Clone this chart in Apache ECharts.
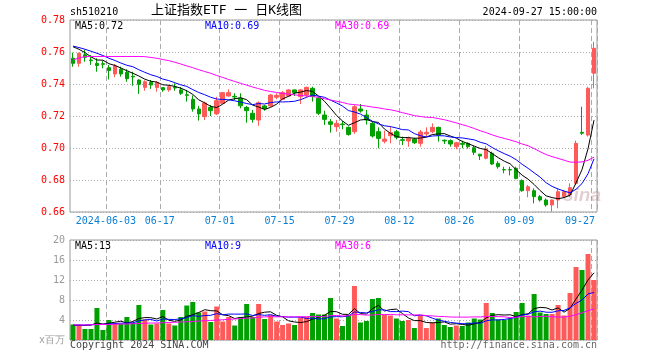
<!DOCTYPE html>
<html><head><meta charset="utf-8">
<script src="https://cdn.jsdelivr.net/npm/echarts@6/dist/echarts.min.js"></script>
<style>html,body{margin:0;padding:0;background:#fff}#c{width:660px;height:360px}</style>
</head><body><div id="c"></div>
<script>
const dates = ['05-24','05-27','05-28','05-29','05-30','05-31',
'06-03','06-04','06-05','06-06','06-07','06-11','06-12','06-13','06-14','06-17','06-18','06-19','06-20','06-21','06-24','06-25','06-26','06-27','06-28',
'07-01','07-02','07-03','07-04','07-05','07-08','07-09','07-10','07-11','07-12','07-15','07-16','07-17','07-18','07-19','07-22','07-23','07-24','07-25','07-26','07-29','07-30','07-31',
'08-01','08-02','08-05','08-06','08-07','08-08','08-09','08-12','08-13','08-14','08-15','08-16','08-19','08-20','08-21','08-22','08-23','08-26','08-27','08-28','08-29','08-30',
'09-02','09-03','09-04','09-05','09-06','09-09','09-10','09-11','09-12','09-13','09-18','09-19','09-20','09-23','09-24','09-25','09-26','09-27'];
const tickDates = ['06-03','06-17','07-01','07-15','07-29','08-12','08-26','09-09','09-27'];

const opens = [0.7561,0.7529,0.7583,0.7550,0.7529,0.7527,0.7502,0.7463,0.7492,0.7473,0.7448,0.7425,0.7379,0.7411,0.7378,0.7377,0.7363,0.7379,0.7363,0.7333,
0.7304,0.7244,0.7196,0.7254,0.7213,0.7279,0.7325,0.7323,0.7311,0.7254,0.7217,0.7175,0.7263,0.7263,0.7317,0.7304,0.7325,0.7363,0.7321,0.7331,
0.7373,0.7311,0.7206,0.7164,0.7133,0.7150,0.7129,0.7102,0.7244,0.7206,0.7154,0.7102,0.7042,0.7077,0.7102,0.7052,0.7044,0.7056,0.7029,0.7088,
0.7102,0.7129,0.7048,0.7046,0.7008,0.7029,0.7029,0.7002,0.6961,0.6936,0.6967,0.6904,0.6865,0.6865,0.6873,0.6796,0.6733,0.6733,0.6696,0.6675,
0.6644,0.6675,0.6696,0.6706,0.6779,0.7098,0.7081,0.7467];
const closes = [0.7529,0.7592,0.7567,0.7546,0.7516,0.7523,0.7484,0.7513,0.7463,0.7433,0.7444,0.7398,0.7414,0.7394,0.7408,0.7363,0.7383,0.7375,0.7342,0.7329,
0.7244,0.7213,0.7281,0.7233,0.7296,0.7346,0.7346,0.7319,0.7264,0.7233,0.7179,0.7283,0.7246,0.7331,0.7329,0.7346,0.7363,0.7346,0.7363,0.7379,
0.7321,0.7217,0.7179,0.7148,0.7154,0.7146,0.7085,0.7258,0.7231,0.7175,0.7075,0.7060,0.7056,0.7096,0.7067,0.7048,0.7060,0.7033,0.7100,0.7098,
0.7129,0.7081,0.7044,0.7025,0.7033,0.7023,0.7008,0.6973,0.6950,0.6994,0.6900,0.6883,0.6863,0.6863,0.6810,0.6733,0.6758,0.6696,0.6675,0.6644,
0.6675,0.6727,0.6727,0.6752,0.7029,0.7092,0.7373,0.7623];
const lows = [0.7508,0.7508,0.7539,0.7519,0.7477,0.7498,0.7429,0.7442,0.7446,0.7414,0.7389,0.7338,0.7358,0.7369,0.7352,0.7352,0.7352,0.7358,0.7331,0.7290,
0.7227,0.7171,0.7175,0.7200,0.7206,0.7275,0.7321,0.7300,0.7248,0.7158,0.7158,0.7139,0.7233,0.7256,0.7304,0.7300,0.7321,0.7325,0.7275,0.7319,
0.7290,0.7206,0.7144,0.7096,0.7102,0.7117,0.7077,0.7088,0.7221,0.7146,0.7065,0.6998,0.7029,0.7029,0.7054,0.7019,0.7008,0.7025,0.7008,0.7071,
0.7092,0.7040,0.7025,0.7008,0.6992,0.6998,0.6996,0.6956,0.6925,0.6929,0.6894,0.6871,0.6842,0.6829,0.6804,0.6727,0.6692,0.6654,0.6665,0.6633,
0.6602,0.6623,0.6690,0.6696,0.6769,0.7081,0.7071,0.7373];
const highs = [0.7596,0.7596,0.7613,0.7581,0.7561,0.7546,0.7519,0.7525,0.7508,0.7492,0.7477,0.7429,0.7423,0.7425,0.7419,0.7381,0.7394,0.7404,0.7381,0.7363,
0.7329,0.7263,0.7290,0.7269,0.7320,0.7350,0.7367,0.7342,0.7342,0.7263,0.7238,0.7292,0.7270,0.7338,0.7342,0.7356,0.7367,0.7365,0.7367,0.7383,
0.7383,0.7321,0.7233,0.7181,0.7175,0.7169,0.7135,0.7269,0.7275,0.7238,0.7165,0.7129,0.7108,0.7133,0.7113,0.7071,0.7071,0.7063,0.7113,0.7129,
0.7154,0.7133,0.7054,0.7054,0.7038,0.7046,0.7035,0.7013,0.6963,0.7013,0.6977,0.6917,0.6883,0.6883,0.6883,0.6804,0.6769,0.6748,0.6706,0.6685,
0.6679,0.6748,0.6738,0.6779,0.7046,0.7258,0.7383,0.7664];
const volumes = [3.1,3.1,2.2,2.2,6.4,2.0,4.0,3.2,3.2,4.6,3.5,7.0,4.1,3.1,3.3,6.0,3.3,2.9,4.6,6.9,
7.6,5.5,5.7,3.6,6.7,3.7,4.6,2.9,4.6,7.2,4.6,7.2,4.2,5.0,3.7,3.0,3.3,3.0,4.5,4.6,
5.4,5.1,5.1,8.4,4.3,2.8,5.0,10.8,3.5,3.8,8.2,8.4,5.1,4.9,4.3,3.8,4.0,2.4,4.9,2.4,
3.5,4.3,3.0,2.6,2.9,2.8,3.5,4.3,4.1,7.4,5.4,4.1,4.0,4.3,5.6,7.4,4.9,9.2,5.5,5.2,
5.2,7.0,4.9,9.4,14.6,14.0,17.2,12.0];

const ma5 = [0.7633,0.7617,0.7596,0.7570,0.7550,0.7549,0.7527,0.7516,0.7500,0.7483,0.7467,0.7450,0.7430,0.7417,0.7412,0.7395,0.7392,0.7385,0.7374,0.7358,
0.7335,0.7301,0.7282,0.7260,0.7253,0.7274,0.7300,0.7308,0.7314,0.7302,0.7268,0.7256,0.7241,0.7254,0.7274,0.7307,0.7323,0.7343,0.7349,0.7359,
0.7354,0.7325,0.7292,0.7249,0.7204,0.7169,0.7142,0.7158,0.7175,0.7179,0.7165,0.7160,0.7119,0.7092,0.7071,0.7065,0.7065,0.7061,0.7062,0.7068,
0.7084,0.7088,0.7090,0.7075,0.7062,0.7041,0.7027,0.7012,0.6997,0.6990,0.6965,0.6940,0.6918,0.6901,0.6864,0.6830,0.6805,0.6772,0.6734,0.6701,
0.6690,0.6683,0.6690,0.6705,0.6782,0.6865,0.6995,0.7174];
const ma10 = [0.7637,0.7628,0.7617,0.7605,0.7592,0.7578,0.7561,0.7547,0.7531,0.7517,0.7508,0.7489,0.7473,0.7458,0.7447,0.7431,0.7421,0.7408,0.7395,0.7385,
0.7365,0.7347,0.7333,0.7317,0.7306,0.7304,0.7301,0.7295,0.7287,0.7278,0.7271,0.7278,0.7275,0.7284,0.7288,0.7288,0.7289,0.7292,0.7302,0.7317,
0.7331,0.7324,0.7317,0.7299,0.7282,0.7262,0.7234,0.7225,0.7212,0.7191,0.7167,0.7151,0.7139,0.7134,0.7125,0.7115,0.7113,0.7090,0.7077,0.7069,
0.7075,0.7077,0.7076,0.7069,0.7065,0.7063,0.7057,0.7051,0.7036,0.7026,0.7003,0.6983,0.6965,0.6949,0.6927,0.6898,0.6873,0.6845,0.6818,0.6783,
0.6760,0.6744,0.6731,0.6720,0.6742,0.6778,0.6839,0.6932];
const ma30 = [0.7550,0.7563,0.7571,0.7572,0.7572,0.7572,0.7572,0.7572,0.7572,0.7572,0.7572,0.7572,0.7571,0.7566,0.7561,0.7553,0.7546,0.7536,0.7525,0.7513,
0.7502,0.7489,0.7478,0.7467,0.7453,0.7441,0.7428,0.7416,0.7404,0.7393,0.7381,0.7371,0.7360,0.7353,0.7347,0.7341,0.7337,0.7332,0.7328,0.7326,
0.7322,0.7316,0.7308,0.7300,0.7292,0.7285,0.7275,0.7271,0.7267,0.7262,0.7256,0.7251,0.7244,0.7239,0.7231,0.7221,0.7212,0.7202,0.7197,0.7192,
0.7191,0.7184,0.7177,0.7167,0.7157,0.7146,0.7135,0.7122,0.7108,0.7096,0.7082,0.7070,0.7060,0.7050,0.7039,0.7025,0.7014,0.6996,0.6977,0.6959,
0.6946,0.6935,0.6924,0.6912,0.6911,0.6913,0.6923,0.6943];
const volMa5 = [2.9,2.9,2.9,3.0,3.40,3.18,3.36,3.56,3.76,3.40,3.70,4.30,4.48,4.46,4.20,4.70,3.96,3.72,4.02,4.74,
5.06,5.50,6.06,5.86,5.82,5.04,4.86,4.30,4.50,4.60,4.78,5.30,5.56,5.64,4.94,4.62,3.84,3.60,3.50,3.68,
4.16,4.52,4.94,5.72,5.66,5.14,5.12,6.26,5.28,5.18,6.26,6.94,5.80,6.08,6.18,5.30,4.42,3.88,3.88,3.50,
3.44,3.50,3.62,3.16,3.26,3.12,2.96,3.22,3.52,4.42,4.94,5.06,5.00,5.04,4.68,5.08,5.24,6.28,6.52,6.44,
6.00,6.42,5.56,6.34,8.22,9.98,12.02,13.44];
const volMa10 = [3.0,3.0,3.0,3.05,3.1,3.15,3.2,3.3,3.35,3.40,3.44,3.83,4.02,4.11,3.80,4.20,4.13,4.10,4.24,4.47,
4.88,4.73,4.89,4.94,5.28,5.05,5.18,5.18,5.18,5.21,4.91,5.08,4.93,5.07,4.77,4.70,4.57,4.58,4.57,4.31,
4.39,4.18,4.27,4.61,4.67,4.65,4.82,5.60,5.50,5.42,5.70,6.03,6.03,5.68,5.68,5.78,5.68,4.84,4.98,4.84,
4.37,3.96,3.75,3.52,3.38,3.28,3.23,3.42,3.34,3.84,4.03,4.01,4.11,4.28,4.55,5.01,5.15,5.64,5.78,5.56,
5.54,5.83,5.92,6.43,7.33,7.99,9.22,9.50];
const volMa30 = [3.0,3.0,3.0,3.05,3.1,3.1,3.1,3.15,3.2,3.2,3.25,3.3,3.35,3.4,3.4,3.45,3.5,3.55,3.6,3.65,
3.7,3.8,3.85,3.9,4.0,4.05,4.15,4.2,4.3,4.36,4.41,4.55,4.61,4.71,4.62,4.65,4.63,4.62,4.66,4.66,
4.73,4.66,4.70,4.87,4.91,4.80,4.86,5.12,5.08,4.98,5.00,5.10,5.08,5.12,5.04,5.04,5.02,5.01,5.02,4.86,
4.82,4.72,4.68,4.60,4.58,4.57,4.58,4.62,4.61,4.70,4.70,4.67,4.63,4.49,4.54,4.69,4.69,4.63,4.70,4.75,
4.65,4.60,4.59,4.74,5.09,5.43,5.87,6.19];

const MONO = 'DejaVu Sans Mono';
const UP = '#FF5A5A', DOWN = '#00A000';
const chart = echarts.init(document.getElementById('c'), null, {renderer: 'canvas'});
const tickSet = new Set(tickDates);
const showTick = (i) => tickSet.has(dates[i]);
const candleData = dates.map((d, i) => [opens[i], closes[i], lows[i], highs[i]]);
const volData = volumes.map((v, i) => ({value: v, itemStyle: {color: closes[i] > opens[i] ? UP : DOWN}}));
const last = a => a[a.length - 1];
const vSplit = {show: true, interval: showTick, lineStyle: {color: '#aaa', width: 1, type: [5, 3]}};
const hSplit = {show: true, lineStyle: {color: '#aaa', width: 1, type: [1, 2]}};
const lineS = (name, data, color, xi) => ({name, type: 'line', data, xAxisIndex: xi, yAxisIndex: xi,
  showSymbol: false, symbol: 'none', smooth: false, lineStyle: {color, width: 1}, silent: true, z: 5});
const txt = (o) => ({type: 'text', z: 100, ...o, style: {font: '10px ' + MONO, fill: '#000', ...o.style}});

const option = {
  animation: false,
  textStyle: {fontFamily: MONO},
  grid: [
    {left: 70, right: 63, top: 20, height: 192, show: true, borderColor: '#999', borderWidth: 1, backgroundColor: 'transparent'},
    {left: 70, right: 63, top: 240, height: 100, show: true, borderColor: '#999', borderWidth: 1, backgroundColor: 'transparent'}
  ],
  xAxis: [
    {type: 'category', gridIndex: 0, data: dates, boundaryGap: true,
      axisLine: {show: false}, axisTick: {show: false},
      axisLabel: {interval: showTick, margin: 4, fontSize: 10, fontFamily: MONO, color: '#0A7FD6',
        formatter: (v) => v === '06-03' ? '{a|2024-06-03}' : (v === '09-27' ? '{b|09-27}' : '{a|' + v + '}'),
        rich: {a: {padding: [0, 6, 0, 0], fontSize: 10, fontFamily: MONO, color: '#0A7FD6'},
               b: {padding: [0, 28, 0, 0], fontSize: 10, fontFamily: MONO, color: '#0A7FD6'}}},
      splitLine: vSplit},
    {type: 'category', gridIndex: 1, data: dates, boundaryGap: true,
      axisLine: {show: false}, axisTick: {show: false}, axisLabel: {show: false}, splitLine: vSplit}
  ],
  yAxis: [
    {type: 'value', gridIndex: 0, min: 0.66, max: 0.78, interval: 0.02, scale: false,
      axisLine: {show: false}, axisTick: {show: false},
      axisLabel: {color: '#FF0000', fontSize: 10, fontFamily: MONO, margin: 5, formatter: v => v.toFixed(2)},
      splitLine: hSplit},
    {type: 'value', gridIndex: 1, min: 0, max: 20, interval: 4,
      axisLine: {show: false}, axisTick: {show: false},
      axisLabel: {color: '#999', fontSize: 10, fontFamily: MONO, margin: 5, formatter: v => v === 0 ? 'x百万' : String(v)},
      splitLine: hSplit}
  ],
  series: [
    {name: 'K', type: 'candlestick', data: candleData, xAxisIndex: 0, yAxisIndex: 0, barWidth: 4,
      itemStyle: {color: UP, color0: DOWN, borderColor: UP, borderColor0: DOWN, borderWidth: 1}, silent: true},
    lineS('MA5', ma5, '#000000', 0),
    lineS('MA10', ma10, '#0000FF', 0),
    lineS('MA30', ma30, '#FF00FF', 0),
    {name: 'VOL', type: 'bar', data: volData, xAxisIndex: 1, yAxisIndex: 1, barWidth: 5, silent: true},
    lineS('VMA5', volMa5, '#000000', 1),
    lineS('VMA10', volMa10, '#0000FF', 1),
    lineS('VMA30', volMa30, '#FF00FF', 1)
  ],
  graphic: [
    txt({left: 70, top: 7, style: {text: 'sh510210'}}),
    txt({left: 151, top: 4, style: {text: '上证指数ETF 一 日K线图', font: '13px ' + MONO + ', Noto Sans CJK SC'}}),
    txt({right: 63, top: 7, style: {text: '2024-09-27 15:00:00'}}),
    txt({left: 75, top: 21, style: {text: 'MA5:' + last(ma5).toFixed(2), fill: '#000'}}),
    txt({left: 205, top: 21, style: {text: 'MA10:' + last(ma10).toFixed(2), fill: '#0000FF'}}),
    txt({left: 335, top: 21, style: {text: 'MA30:' + last(ma30).toFixed(2), fill: '#FF00FF'}}),
    txt({left: 75, top: 241, style: {text: 'MA5:' + Math.floor(last(volMa5)), fill: '#000'}}),
    txt({left: 205, top: 241, style: {text: 'MA10:' + Math.floor(last(volMa10)), fill: '#0000FF'}}),
    txt({left: 335, top: 241, style: {text: 'MA30:' + Math.floor(last(volMa30)), fill: '#FF00FF'}}),
    txt({left: 70, top: 340, style: {text: 'Copyright 2024 SINA.COM', fill: '#444'}}),
    txt({right: 63, top: 340, style: {text: 'http://finance.sina.com.cn', fill: '#666'}}),
    {type: 'text', left: 563, top: 186, z: 1, style: {text: 'sina', font: 'italic bold 19px Liberation Sans', fill: 'rgba(190,150,150,0.45)'}}
  ]
};
chart.setOption(option);
</script>
</body></html>
